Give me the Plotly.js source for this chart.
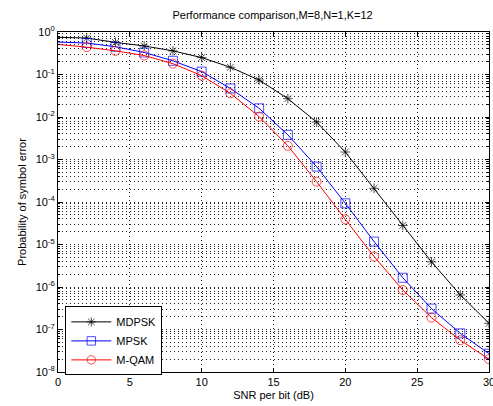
<!DOCTYPE html>
<html>
<head>
<meta charset="utf-8">
<script src="https://cdn.plot.ly/plotly-3.0.1.min.js"></script>
<style>html,body{margin:0;padding:0;background:#fff;}#chart{width:493px;height:406px;}</style>
</head>
<body>
<div id="chart"></div>
<script>
const snr = [0, 2, 4, 6, 8, 10, 12, 14, 16, 18, 20, 22, 24, 26, 28, 30];
const mdpsk = [0.75, 0.72, 0.57, 0.47, 0.36, 0.25, 0.148, 0.074, 0.027, 0.0076, 0.0015, 2.1e-4, 2.8e-5, 3.9e-6, 6.5e-7, 1.4e-7];
const mpsk  = [0.58, 0.55, 0.45, 0.33, 0.21, 0.117, 0.047, 0.016, 0.0038, 6.8e-4, 9.3e-5, 1.17e-5, 1.65e-6, 3.1e-7, 8.1e-8, 2.7e-8];
const mqam  = [0.51, 0.44, 0.36, 0.28, 0.18, 0.094, 0.036, 0.0102, 0.0021, 3.0e-4, 3.9e-5, 5.2e-6, 8.5e-7, 1.9e-7, 5.6e-8, 2.0e-8];
const seriesNames = ['MDPSK', 'MPSK', 'M-QAM'];
const yTickVals = [1e-8, 1e-7, 1e-6, 1e-5, 1e-4, 1e-3, 1e-2, 1e-1, 1];
const yTickText = ['10<sup>-8</sup>', '10<sup>-7</sup>', '10<sup>-6</sup>', '10<sup>-5</sup>', '10<sup>-4</sup>', '10<sup>-3</sup>', '10<sup>-2</sup>', '10<sup>-1</sup>', '10<sup>0</sup>'];
const titleText = 'Performance comparison,M=8,N=1,K=12';
const xTitle = 'SNR per bit (dB)';
const yTitle = 'Probability of symbol error';

function sizes(s) { return snr.map(x => x === 0 ? 0 : s); }

const traces = [
  {x: snr, y: mdpsk, name: seriesNames[0], mode: 'lines+markers',
   line: {color: '#000000', width: 1},
   marker: {symbol: 'asterisk-open', size: sizes(8), color: '#000000', line: {color: '#000000', width: 1}}},
  {x: snr, y: mpsk, name: seriesNames[1], mode: 'lines+markers',
   line: {color: '#0000ff', width: 1},
   marker: {symbol: 'square-open', size: sizes(9), color: '#0000ff', line: {color: '#0000ff', width: 1}}},
  {x: snr, y: mqam, name: seriesNames[2], mode: 'lines+markers',
   line: {color: '#ff0000', width: 1},
   marker: {symbol: 'circle-open', size: sizes(9), color: '#ff0000', line: {color: '#ff0000', width: 1}}}
];

const fnt = {family: 'Liberation Sans, Arial, sans-serif', size: 11, color: '#000'};
const gridDash = '1px,3px';
const layout = {
  width: 493, height: 406,
  margin: {l: 58, r: 4, t: 32, b: 34},
  paper_bgcolor: '#fff', plot_bgcolor: '#fff',
  font: fnt,
  title: {text: titleText, font: {family: fnt.family, size: 11, color: '#000'}, x: 0.553, xanchor: 'center', y: 0.962, yanchor: 'middle'},
  showlegend: true,
  legend: {x: 0.017, y: 0.193, xanchor: 'left', yanchor: 'top', bgcolor: '#fff', bordercolor: '#000', borderwidth: 1,
           font: {family: fnt.family, size: 11, color: '#000'}, tracegroupgap: 0, itemwidth: 40},
  xaxis: {
    range: [0, 30], dtick: 5, tick0: 0,
    showline: true, linecolor: '#000', linewidth: 1, mirror: 'ticks',
    ticks: 'inside', ticklen: 4, tickcolor: '#000',
    showgrid: true, gridcolor: '#222', griddash: gridDash, gridwidth: 1,
    zeroline: false, ticklabeloverflow: 'allow',
    tickfont: {family: fnt.family, size: 11, color: '#000'},
    title: {text: xTitle, font: {family: fnt.family, size: 11, color: '#000'}, standoff: 4}
  },
  yaxis: {
    type: 'log', range: [-8, 0],
    tickmode: 'array', tickvals: yTickVals, ticktext: yTickText,
    showline: true, linecolor: '#000', linewidth: 1, mirror: 'ticks',
    ticks: 'inside', ticklen: 4, tickcolor: '#000',
    showgrid: true, gridcolor: '#222', griddash: gridDash, gridwidth: 1,
    zeroline: false,
    minor: {dtick: 'D1', ticks: 'inside', ticklen: 2, tickcolor: '#000', showgrid: true, gridcolor: '#222', griddash: gridDash, gridwidth: 1},
    tickfont: {family: fnt.family, size: 11, color: '#000'},
    title: {text: yTitle, font: {family: fnt.family, size: 11, color: '#000'}, standoff: 6}
  }
};

Plotly.newPlot('chart', traces, layout, {displayModeBar: false, staticPlot: true});
</script>
</body>
</html>
